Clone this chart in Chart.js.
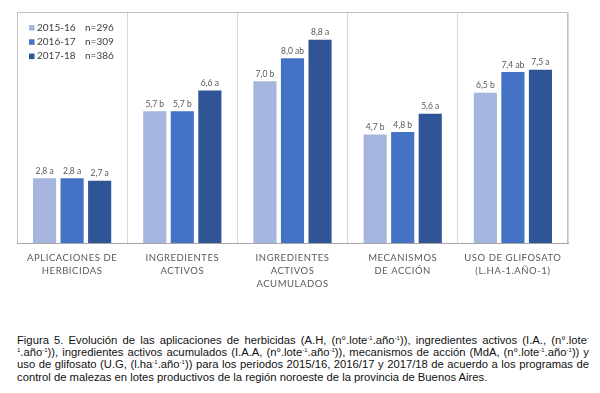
<!DOCTYPE html>
<html>
<head>
<meta charset="utf-8">
<script src="https://cdn.jsdelivr.net/npm/chart.js@4.4.0/dist/chart.umd.min.js"></script>
<style>
  body { margin: 0; background: #fff; }
  #wrap { position: relative; width: 600px; height: 393px; }
  #chart { position: absolute; left: 0; top: 0; }
  #caption {
    position: absolute; left: 17px; top: 334px; width: 572px;
    font-family: "Liberation Sans", Arial, sans-serif; font-size: 11.25px;
    line-height: 12.2px; text-align: justify; color: #111;
  }
  #caption sup { font-size: 6px; vertical-align: 4px; line-height: 0; }
</style>
</head>
<body>
<div id="wrap">
  <canvas id="chart" width="600" height="300"></canvas>
  <div id="caption">Figura 5. Evolución de las aplicaciones de herbicidas (A.H, (n°.lote<sup>-1</sup>.año<sup>-1</sup>)), ingredientes activos (I.A., (n°.lote<sup>-1</sup>.año<sup>-1</sup>)), ingredientes activos acumulados (I.A.A, (n°.lote<sup>-1</sup>.año<sup>-1</sup>)), mecanismos de acción (MdA, (n°.lote<sup>-1</sup>.año<sup>-1</sup>)) y uso de glifosato (U.G, (l.ha<sup>-1</sup>.año<sup>-1</sup>)) para los periodos 2015/16, 2016/17 y 2017/18 de acuerdo a los programas de control de malezas en lotes productivos de la región noroeste de la provincia de Buenos Aires.</div>
</div>
<script>
// categories (multi-line axis labels)
const categories = [
  ["APLICACIONES DE", "HERBICIDAS"],
  ["INGREDIENTES", "ACTIVOS"],
  ["INGREDIENTES", "ACTIVOS", "ACUMULADOS"],
  ["MECANISMOS", "DE ACCIÓN"],
  ["USO DE GLIFOSATO", "(L.HA-1.AÑO-1)"]
];

const periods = ["2015-16", "2016-17", "2017-18"];
const sampleSizes = ["n=296", "n=309", "n=386"];

const values1516 = [2.8, 5.7, 7.0, 4.7, 6.5];
const values1617 = [2.8, 5.7, 8.0, 4.8, 7.4];
const values1718 = [2.7, 6.6, 8.8, 5.6, 7.5];

// significance letters shown after each value
const letters1516 = ["a", "b", "b", "b", "b"];
const letters1617 = ["a", "b", "ab", "b", "ab"];
const letters1718 = ["a", "a", "a", "a", "a"];

const colors = ["#A6B5DD", "#4472C4", "#2F5597"];

const FONT = "Lato, 'Open Sans', sans-serif";

// frame around the plot area + letter spacing for the axis labels
const framePlugin = {
  id: "frame",
  beforeDraw(chart) {
    chart.ctx.letterSpacing = "0.55px";
  },
  afterDraw(chart) {
    const { ctx, chartArea: { left, right, top, bottom } } = chart;
    ctx.save();
    ctx.strokeStyle = "#BFBFBF";
    ctx.lineWidth = 1;
    ctx.beginPath();
    ctx.moveTo(left + 0.5, bottom);
    ctx.lineTo(left + 0.5, top + 0.5);
    ctx.lineTo(right - 0.5, top + 0.5);
    ctx.lineTo(right - 0.5, bottom);
    ctx.stroke();
    ctx.restore();
  }
};

// value labels above bars ("2,8 a")
const valueLabels = {
  id: "valueLabels",
  afterDatasetsDraw(chart) {
    const ctx = chart.ctx;
    ctx.save();
    ctx.letterSpacing = "0px";
    ctx.font = "8.5px " + FONT;
    ctx.fillStyle = "#595959";
    ctx.textAlign = "center";
    ctx.textBaseline = "bottom";
    chart.data.datasets.forEach((ds, i) => {
      chart.getDatasetMeta(i).data.forEach((bar, j) => {
        const txt = ds.data[j].toFixed(1).replace(".", ",") + " " + ds.letters[j];
        ctx.fillText(txt, bar.x, bar.y - 3);
      });
    });
    ctx.restore();
  }
};

// legend drawn inside the plot, top left
const insideLegend = {
  id: "insideLegend",
  afterDraw(chart) {
    const { ctx, chartArea: { left, top } } = chart;
    ctx.save();
    ctx.letterSpacing = "0px";
    ctx.font = "10px " + FONT;
    ctx.textBaseline = "middle";
    ctx.textAlign = "left";
    chart.data.datasets.forEach((ds, i) => {
      const y = top + 15.5 + i * 14.3;
      ctx.fillStyle = ds.backgroundColor;
      ctx.fillRect(left + 12, y - 2.5, 5.5, 5.5);
      ctx.fillStyle = "#404040";
      ctx.fillText(ds.label, left + 20, y);
      ctx.fillText(sampleSizes[i], left + 68, y);
    });
    ctx.restore();
  }
};

new Chart(document.getElementById("chart"), {
  type: "bar",
  data: {
    labels: categories,
    datasets: [
      { label: periods[0], data: values1516, letters: letters1516, backgroundColor: colors[0] },
      { label: periods[1], data: values1617, letters: letters1617, backgroundColor: colors[1] },
      { label: periods[2], data: values1718, letters: letters1718, backgroundColor: colors[2] }
    ]
  },
  options: {
    responsive: false,
    animation: false,
    categoryPercentage: 0.75,
    barPercentage: 0.84,
    layout: { padding: { left: 17, right: 32, top: 12, bottom: 0 } },
    scales: {
      x: {
        grid: { offset: true, color: "#D9D9D9", drawTicks: false },
        border: { color: "#A6A6A6" },
        afterFit(scale) { scale.height = 57; },
        ticks: {
          autoSkip: false,
          maxRotation: 0,
          padding: 9,
          color: "#595959",
          font: { family: FONT, size: 9.5, lineHeight: 1.35 }
        }
      },
      y: {
        display: false,
        min: 0,
        max: 10
      }
    },
    plugins: {
      legend: { display: false },
      tooltip: { enabled: false }
    }
  },
  plugins: [framePlugin, valueLabels, insideLegend]
});
</script>
</body>
</html>
